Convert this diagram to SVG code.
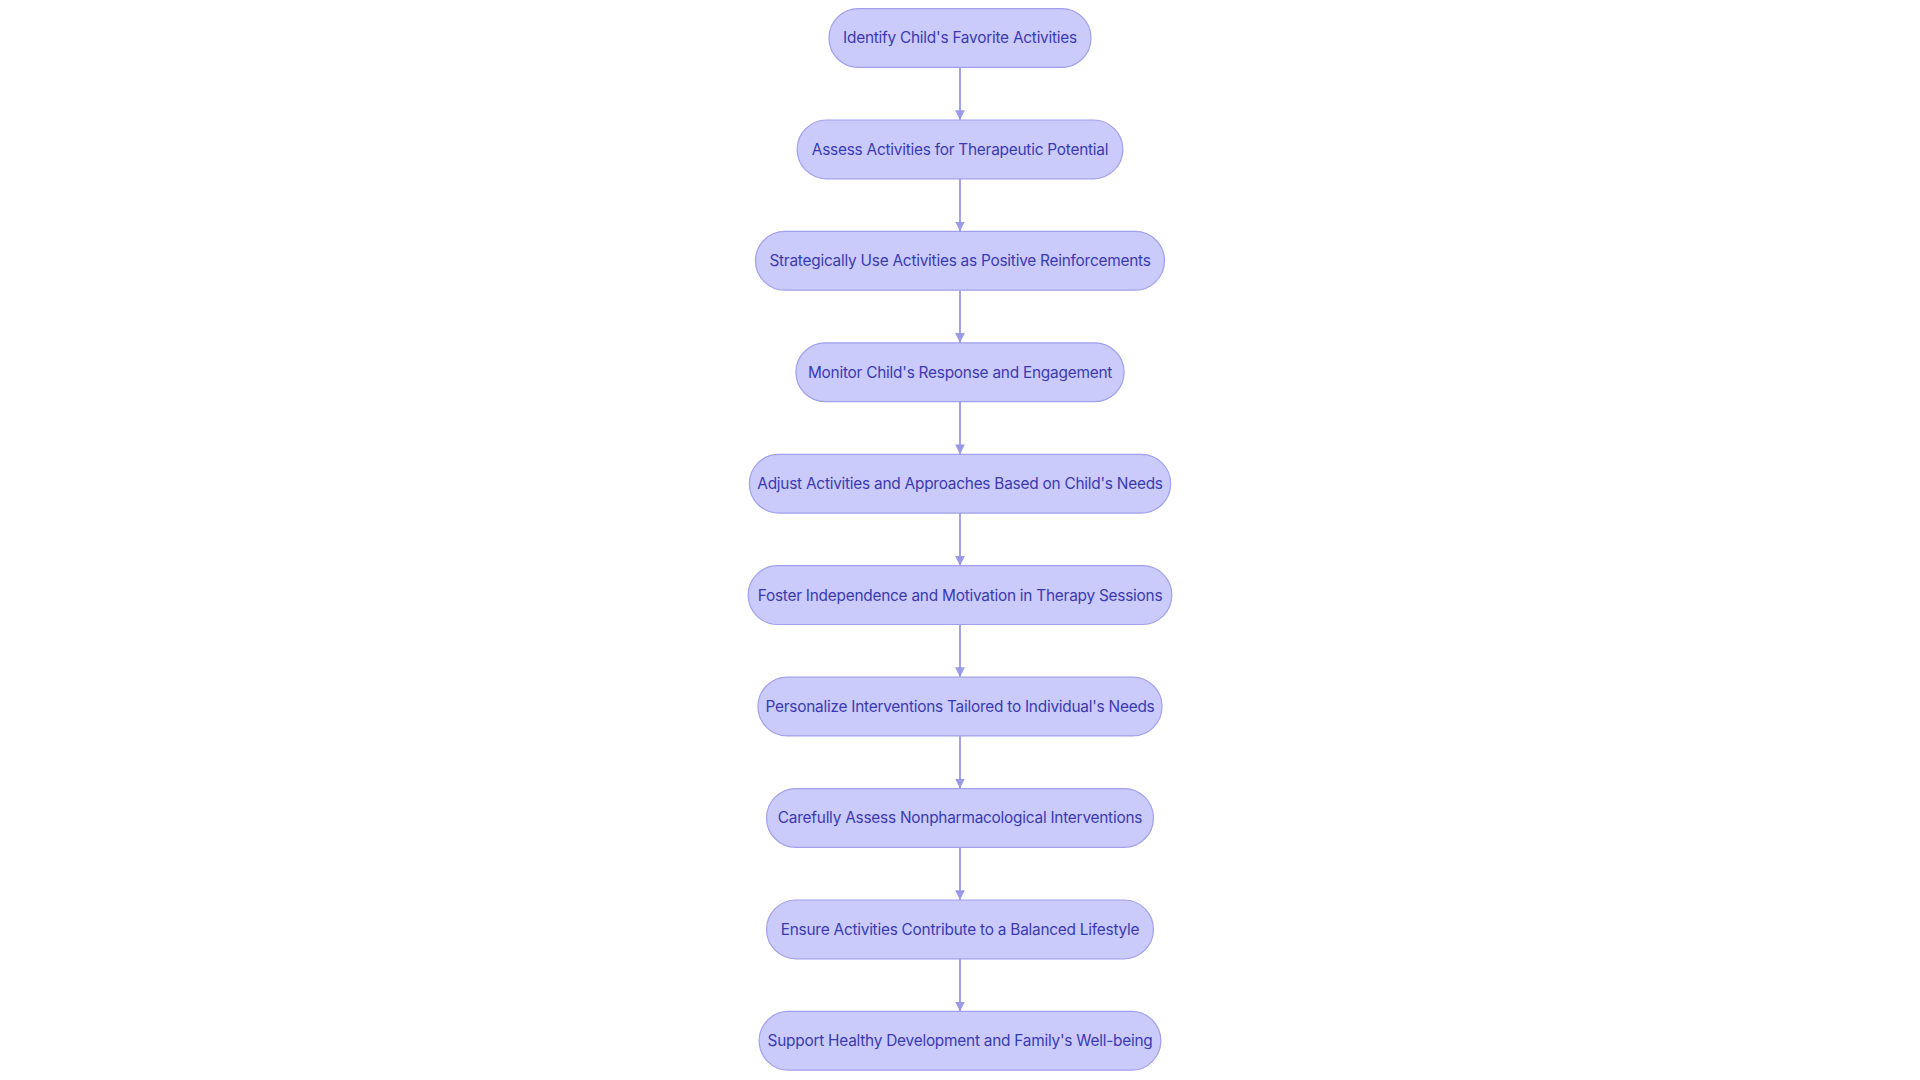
<svg xmlns="http://www.w3.org/2000/svg" width="1920" height="1080" viewBox="0 0 1920 1080">
<style>
.n rect{fill:#cbcbfb;stroke:#a0a0ec;stroke-width:1}
.n text{font-family:Inter,"Noto Sans",sans-serif;font-size:12.6px;fill:#3a3ab0;text-anchor:middle;dominant-baseline:central;letter-spacing:-0.2px}
.e line{stroke:#9a9ae6;stroke-width:1.5;marker-end:url(#a)}
</style>
<defs><marker id="a" viewBox="0 0 10 10" refX="10" refY="5" markerWidth="8" markerHeight="8" markerUnits="userSpaceOnUse" orient="auto"><path d="M0,0L10,5L0,10z" fill="#9a9ae6"/></marker></defs>
<rect width="1920" height="1080" fill="#fff"/>
<g transform="scale(1.22449)">
<g class="e">
<line x1="784" y1="55" x2="784" y2="98"/>
<line x1="784" y1="146" x2="784" y2="189"/>
<line x1="784" y1="237" x2="784" y2="280"/>
<line x1="784" y1="328" x2="784" y2="371"/>
<line x1="784" y1="419" x2="784" y2="462"/>
<line x1="784" y1="510" x2="784" y2="553"/>
<line x1="784" y1="601" x2="784" y2="644"/>
<line x1="784" y1="692" x2="784" y2="735"/>
<line x1="784" y1="783" x2="784" y2="826"/>
</g>
<g id="n1" class="n"><rect x="677" y="7" width="214" height="48" rx="24"/><text x="784" y="31">Identify Child's Favorite Activities</text></g>
<g id="n2" class="n"><rect x="651" y="98" width="266" height="48" rx="24"/><text x="784" y="122">Assess Activities for Therapeutic Potential</text></g>
<g id="n3" class="n"><rect x="617" y="189" width="334" height="48" rx="24"/><text x="784" y="213">Strategically Use Activities as Positive Reinforcements</text></g>
<g id="n4" class="n"><rect x="650" y="280" width="268" height="48" rx="24"/><text x="784" y="304">Monitor Child's Response and Engagement</text></g>
<g id="n5" class="n"><rect x="612" y="371" width="344" height="48" rx="24"/><text x="784" y="395">Adjust Activities and Approaches Based on Child's Needs</text></g>
<g id="n6" class="n"><rect x="611" y="462" width="346" height="48" rx="24"/><text x="784" y="486">Foster Independence and Motivation in Therapy Sessions</text></g>
<g id="n7" class="n"><rect x="619" y="553" width="330" height="48" rx="24"/><text x="784" y="577">Personalize Interventions Tailored to Individual's Needs</text></g>
<g id="n8" class="n"><rect x="626" y="644" width="316" height="48" rx="24"/><text x="784" y="668">Carefully Assess Nonpharmacological Interventions</text></g>
<g id="n9" class="n"><rect x="626" y="735" width="316" height="48" rx="24"/><text x="784" y="759">Ensure Activities Contribute to a Balanced Lifestyle</text></g>
<g id="n10" class="n"><rect x="620" y="826" width="328" height="48" rx="24"/><text x="784" y="850">Support Healthy Development and Family's Well-being</text></g>
</g>
</svg>
